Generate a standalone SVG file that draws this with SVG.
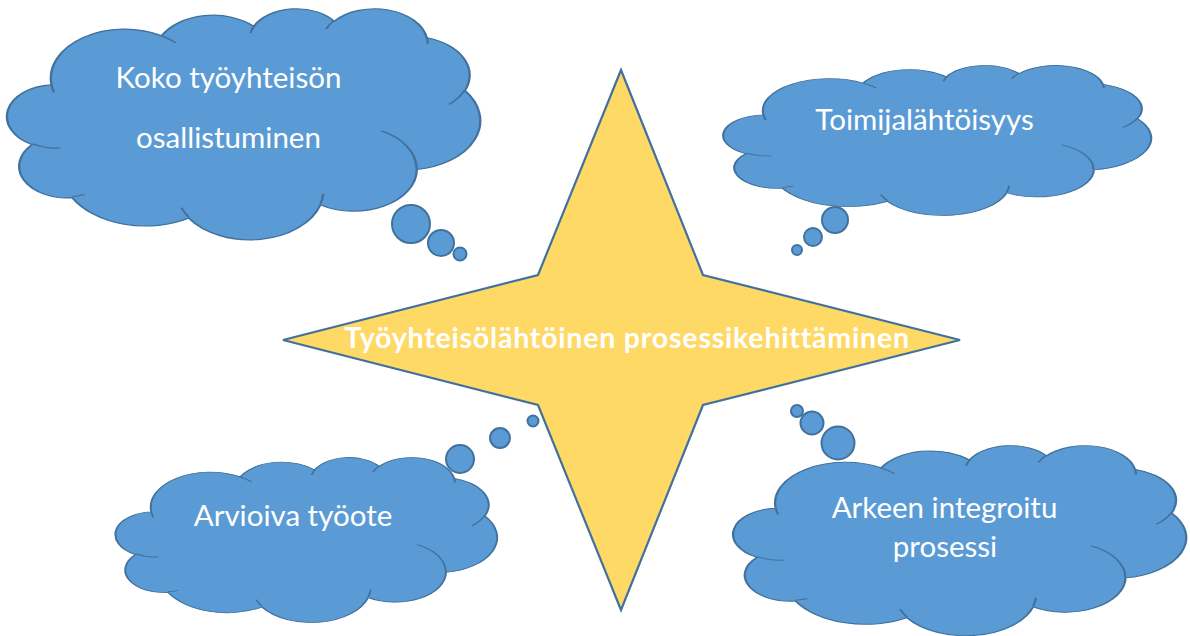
<svg xmlns="http://www.w3.org/2000/svg" xmlns:xlink="http://www.w3.org/1999/xlink" width="1190" height="636" viewBox="0 0 1190 636">
<style>
.cloud{fill:#5B9BD5;stroke:#41719C;stroke-width:2.2;vector-effect:non-scaling-stroke;stroke-linejoin:round}
.cline{fill:none;stroke:#41719C;stroke-width:2.2;vector-effect:non-scaling-stroke}
.bub{fill:#5B9BD5;stroke:#41719C;stroke-width:2}
.star{fill:#FFD966;stroke:#41719C;stroke-width:2.2;stroke-linejoin:miter}
.lbl{font-family:Lato,"Open Sans","Liberation Sans",sans-serif;font-size:29.5px;fill:#FFFFFF;text-anchor:middle}
.slbl{font-family:Lato,"Open Sans","Liberation Sans",sans-serif;font-size:28.5px;font-weight:bold;letter-spacing:0.8px;fill:#FFFFFF;text-anchor:middle}
</style>
<defs>
<path id="cloudShape" d="M39,143.7 A67.53 91.9 0 0 1 140.06,52.02 A53.33 72.67 0 0 1 224.56,34.33 A43.65 59.45 0 0 1 298.32,24.8 A48.57 65.95 0 0 1 383.17,55.76 A53.33 72.73 0 0 1 418.18,154.59 A67.75 92.2 0 0 1 374.04,302.04 A57.85 78.67 0 0 1 285.56,368.14 A67.52 92.15 0 0 1 164.81,392.67 A77.2 105.43 0 0 1 58.04,354.7 A43.6 59.18 0 0 1 21.13,255.48 A43.45 59.45 0 0 1 39,143.7 Z"/>
<path id="cloudLines" d="M46.93,261.77 A43.45 59.45 0 0 1 21.6,253.8 M69.28,348.99 A43.6 59.18 0 0 1 58.2,352.8 M164.78,390.9 A67.52 92.15 0 0 1 158.09,373.48 M288.27,347.51 A67.52 92.15 0 0 1 285.6,366.6 M341.29,229.54 A57.85 78.67 0 0 1 373.8,300.9 M417.98,153.54 A53.33 72.73 0 0 1 403.5,180.3 M383.24,54.26 A48.57 65.95 0 0 1 384,66.9 M290.78,39.52 A48.57 65.95 0 0 1 298.2,23.39 M221.41,47.2 A43.65 59.45 0 0 1 225,33.31 M140,51.92 A67.53 91.9 0 0 1 152.99,65.4 M41.27,157.89 A67.53 91.9 0 0 1 39,143.71"/>
</defs>

<g id="star">
<polygon class="star" points="621,70 703,275 960,340 703,405 621,610 538,405 283,340 538,275"/>
<text class="slbl" x="627" y="348">Työyhteisölähtöinen prosessikehittäminen</text>
</g>

<g id="cloud-koko">
<g transform="translate(9,8) scale(1.0903,0.5347)">
<use xlink:href="#cloudShape" class="cloud"/>
<use xlink:href="#cloudLines" class="cline"/>
</g>
<circle class="bub" cx="411" cy="224" r="19"/>
<circle class="bub" cx="441" cy="243" r="13"/>
<circle class="bub" cx="460" cy="254" r="6.5"/>
<text class="lbl" x="228.5" y="88">Koko työyhteisön</text>
<text class="lbl" x="228.5" y="148">osallistuminen</text>
</g>

<g id="cloud-toimija">
<g transform="translate(725,65) scale(0.9861,0.3472)">
<use xlink:href="#cloudShape" class="cloud"/>
<use xlink:href="#cloudLines" class="cline"/>
</g>
<circle class="bub" cx="835" cy="220" r="13"/>
<circle class="bub" cx="813" cy="237" r="9"/>
<circle class="bub" cx="797" cy="250" r="5"/>
<text class="lbl" x="924.5" y="130">Toimijalähtöisyys</text>
</g>

<g id="cloud-arvioiva">
<g transform="translate(117,457) scale(0.8796,0.3819)">
<use xlink:href="#cloudShape" class="cloud"/>
<use xlink:href="#cloudLines" class="cline"/>
</g>
<circle class="bub" cx="460" cy="459" r="14"/>
<circle class="bub" cx="500" cy="438" r="10"/>
<circle class="bub" cx="533" cy="421" r="5.5"/>
<text class="lbl" x="293" y="526">Arvioiva työote</text>
</g>

<g id="cloud-arkeen">
<g transform="translate(735,445) scale(1.044,0.4398)">
<use xlink:href="#cloudShape" class="cloud"/>
<use xlink:href="#cloudLines" class="cline"/>
</g>
<circle class="bub" cx="838" cy="443" r="16.5"/>
<circle class="bub" cx="812" cy="423" r="11.5"/>
<circle class="bub" cx="797" cy="411" r="6"/>
<text class="lbl" x="944.5" y="518">Arkeen integroitu</text>
<text class="lbl" x="945" y="557">prosessi</text>
</g>
</svg>
